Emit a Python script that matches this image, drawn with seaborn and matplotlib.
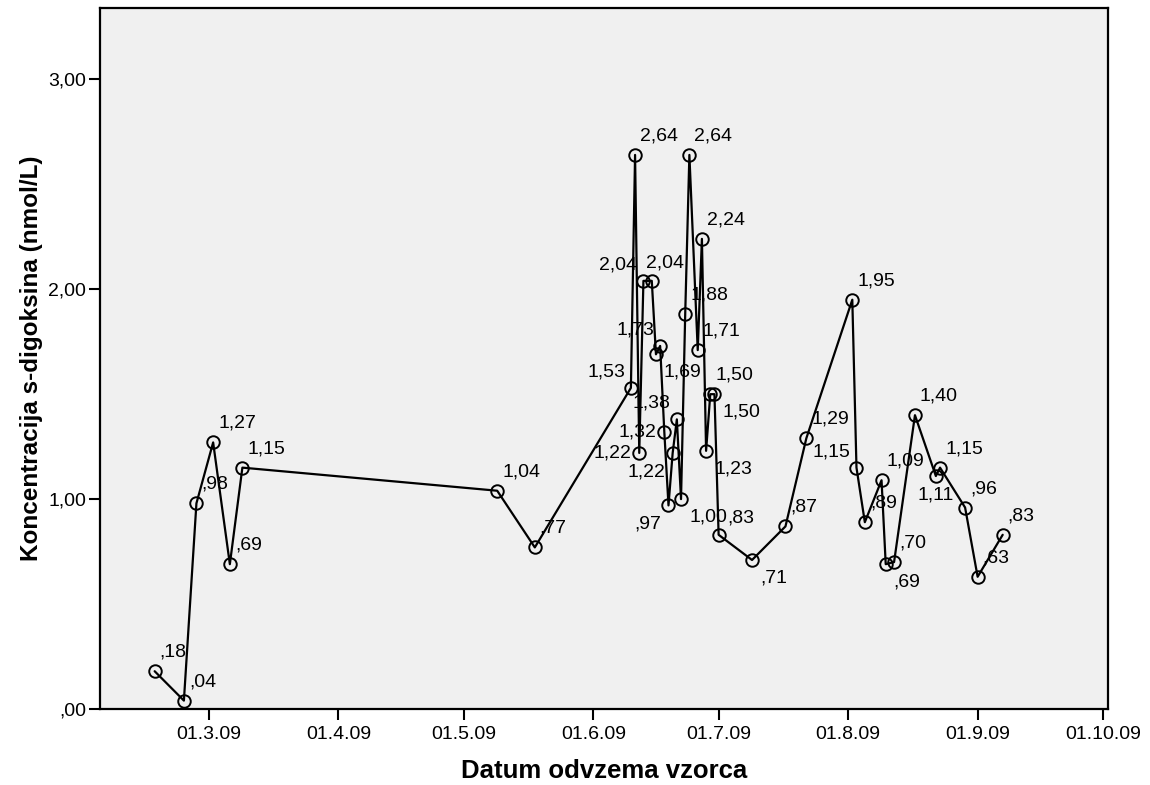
# Digoxin concentration over sampling dates (SPSS-style line chart)
import pandas as pd
import seaborn as sns
import matplotlib.pyplot as plt
import matplotlib.dates as mdates
from matplotlib.ticker import FuncFormatter, FixedLocator

# data
datumi = [
    "2009-02-16", "2009-02-23", "2009-02-26", "2009-03-02", "2009-03-06", "2009-03-09",
    "2009-05-09", "2009-05-18", "2009-06-10", "2009-06-11", "2009-06-12", "2009-06-13",
    "2009-06-15", "2009-06-16", "2009-06-17", "2009-06-18", "2009-06-19", "2009-06-20",
    "2009-06-21", "2009-06-22", "2009-06-23", "2009-06-24", "2009-06-26", "2009-06-27",
    "2009-06-28", "2009-06-29", "2009-06-30", "2009-07-01", "2009-07-09", "2009-07-17",
    "2009-07-22", "2009-08-02", "2009-08-03", "2009-08-05", "2009-08-09", "2009-08-10",
    "2009-08-12", "2009-08-17", "2009-08-22", "2009-08-23", "2009-08-29", "2009-09-01",
    "2009-09-07",
]
koncentracija = [
    0.18, 0.04, 0.98, 1.27, 0.69, 1.15,
    1.04, 0.77, 1.53, 2.64, 1.22, 2.04,
    2.04, 1.69, 1.73, 1.32, 0.97, 1.22,
    1.38, 1.00, 1.88, 2.64, 1.71, 2.24,
    1.23, 1.50, 1.50, 0.83, 0.71, 0.87,
    1.29, 1.95, 1.15, 0.89, 1.09, 0.69,
    0.70, 1.40, 1.11, 1.15, 0.96, 0.63,
    0.83,
]
# where each value label sits relative to its point
label_side = [
    "ur", "ur", "ur", "ur", "ur", "ur",
    "ur", "ur", "ul", "ur", "l", "ul",
    "u", "dr", "ul", "l", "dl", "dl",
    "ul", "dr", "ur", "ur", "ur", "ur",
    "dr", "ur", "dr", "urw", "dr", "ur",
    "ur", "ur", "ul", "ur", "ur", "dr",
    "ur", "ur", "d", "ur", "ur", "ur",
    "ur",
]
month_ticks = pd.date_range("2009-03-01", "2009-10-01", freq="MS")

df = pd.DataFrame({"datum": pd.to_datetime(datumi), "konc": koncentracija})

sns.set_style("ticks")
plt.rcParams["font.family"] = ["Liberation Sans", "DejaVu Sans"]
plt.rcParams["text.color"] = "black"
plt.rcParams["axes.labelcolor"] = "black"

fig = plt.figure(figsize=(11.5, 7.85), dpi=100)
ax = fig.add_axes([100 / 1150, 76 / 785, 1008 / 1150, 701 / 785])
ax.set_facecolor("#f0f0f0")

sns.lineplot(data=df, x="datum", y="konc", ax=ax, estimator=None, sort=False,
             color="black", linewidth=1.6, marker="o", markersize=9,
             markerfacecolor="none", markeredgecolor="black", markeredgewidth=1.4)

# value labels, SPSS number style (",18", "1,27")
offsets = {
    "ur": (5, 19, "left"), "urw": (9, 17, "left"), "ul": (-6, 16, "right"),
    "l": (-8, 0, "right"), "dl": (-7, -19, "right"), "dr": (8, -18, "left"),
    "d": (0, -19, "center"), "u": (13, 18, "center"),
}
for d, v, side in zip(df["datum"], df["konc"], label_side):
    dx, dy, ha = offsets[side]
    txt = f"{v:.2f}".replace(".", ",").lstrip("0")
    ax.annotate(txt, (mdates.date2num(d), v), xytext=(dx, dy),
                textcoords="offset pixels", ha=ha, va="center", fontsize=14,
                color="black")

ax.set_xlim(pd.Timestamp("2009-02-02 22:00"), pd.Timestamp("2009-10-02 05:00"))
ax.set_ylim(0, 3.34)

ax.xaxis.set_major_locator(FixedLocator(mdates.date2num(month_ticks)))
ax.xaxis.set_major_formatter(FuncFormatter(
    lambda v, p: "{:02d}.{}.{:%y}".format(mdates.num2date(v).day, mdates.num2date(v).month,
                                          mdates.num2date(v))))
ax.set_yticks([0, 1, 2, 3])
ax.yaxis.set_major_formatter(FuncFormatter(lambda v, p: f"{v:.2f}".replace(".", ",").lstrip("0")))

for s in ax.spines.values():
    s.set_visible(True)
    s.set_color("black")
    s.set_linewidth(1.6)
ax.tick_params(axis="both", direction="out", length=8, width=1.5, color="black",
               labelsize=14, labelcolor="black")
ax.tick_params(axis="y", pad=2)
ax.tick_params(axis="x", pad=4)

ax.set_xlabel("Datum odvzema vzorca", fontsize=18.5, fontweight="bold")
ax.set_ylabel("Koncentracija s-digoksina (nmol/L)", fontsize=17.5, fontweight="bold")
ax.xaxis.set_label_coords(0.5, -0.071)
ax.yaxis.set_label_coords(-0.057, 0.5)

fig.savefig("out.png", dpi=100)
